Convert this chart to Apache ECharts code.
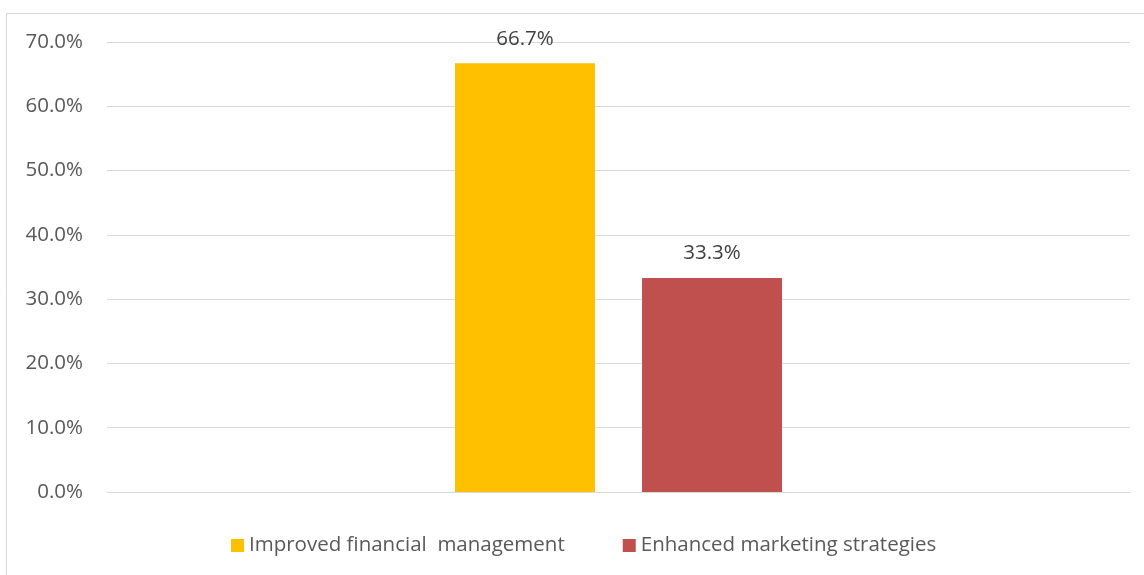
<!DOCTYPE html>
<html>
<head>
<meta charset="utf-8">
<style>
  html, body { margin: 0; padding: 0; background: #fff; }
  #chart { width: 1144px; height: 575px; }
</style>
<script src="https://cdn.jsdelivr.net/npm/echarts@6/dist/echarts.min.js"></script>
</head>
<body>
<div id="chart"></div>
<script>
const categories = [""];
const seriesNames = ["Improved financial  management", "Enhanced marketing strategies"];
const seriesValues = [[66.7], [33.3]];
const palette = ["#FFC000", "#C0504D"];
const yTicks = { min: 0, max: 70, interval: 10 };

const textColor = "#595959";
const fontFamily = "'Open Sans', 'Noto Sans', sans-serif";
const fontSize = 20.5;

const chart = echarts.init(document.getElementById("chart"), null, { renderer: "canvas" });

const series = seriesNames.map((name, i) => ({
  name,
  type: "bar",
  data: seriesValues[i],
  barWidth: 140,
  barGap: "33.6%",
  itemStyle: { color: palette[i] },
  label: {
    show: true,
    position: "top",
    distance: 14,
    color: "#404040",
    fontSize,
    fontFamily,
    formatter: (p) => p.value.toFixed(1) + "%",
  },
}));

chart.setOption({
  animation: false,
  color: palette,
  graphic: [
    {
      type: "rect",
      shape: { x: 6.5, y: 13.5, width: 1200, height: 700 },
      style: { fill: "none", stroke: "#d9d9d9", lineWidth: 1 },
      silent: true,
    },
  ],
  grid: { left: 107, right: 14, top: 42, bottom: 83 },
  legend: {
    data: seriesNames,
    left: 226,
    top: 530,
    icon: "rect",
    itemWidth: 13,
    itemHeight: 13,
    itemGap: 58,
    textStyle: { color: textColor, fontSize, fontFamily },
  },
  xAxis: {
    type: "category",
    data: categories,
    axisLine: { show: true, lineStyle: { color: "#d9d9d9", width: 1 } },
    axisTick: { show: false },
    axisLabel: { show: false },
  },
  yAxis: {
    type: "value",
    min: yTicks.min,
    max: yTicks.max,
    interval: yTicks.interval,
    axisLine: { show: false },
    axisTick: { show: false },
    splitLine: { lineStyle: { color: "#d9d9d9", width: 1 } },
    axisLabel: {
      color: textColor,
      fontSize,
      fontFamily,
      margin: 24,
      formatter: (v) => v.toFixed(1) + "%",
    },
  },
  series,
});
</script>
</body>
</html>
